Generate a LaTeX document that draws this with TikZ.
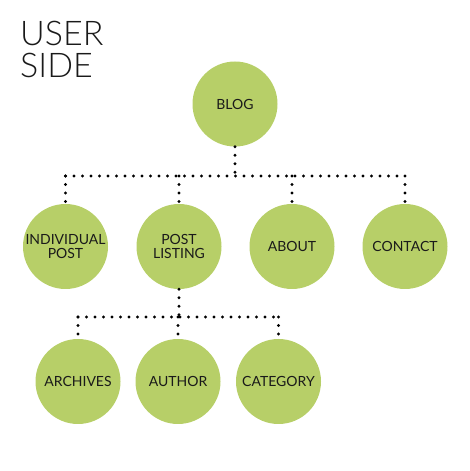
\documentclass[tikz,border=0pt]{standalone}
\usepackage{fontspec}
\setmainfont{Lato}
\newfontfamily\titlefont{Lato Light}
\usepackage{xcolor}
\definecolor{leaf}{RGB}{183,207,104}
\definecolor{ink}{RGB}{26,26,26}

\begin{document}
\begin{tikzpicture}[
    x=1pt, y=1pt,
    page/.style={circle, fill=leaf, minimum size=85pt, inner sep=0pt,
                 align=center, text=ink, font=\fontsize{14}{13.5}\selectfont},
    link/.style={line width=3.2pt, line cap=round, dash pattern=on 0pt off 8.5pt}
]
    \useasboundingbox (0,0) rectangle (470,471);

    % Title
    \node[anchor=north west, align=left, inner sep=0pt, text=ink,
          font=\titlefont\fontsize{34}{32}\selectfont] (title) at (20,450) {USER\\SIDE};

    % Pages
    \node[page] (blog) at (235,367) {BLOG};

    \node[page] (indiv) at (65.5,224.5) {INDIVIDUAL\\POST};
    \node[page] (listing) at (179,224.5) {POST\\LISTING};
    \node[page] (about) at (292,224.5) {ABOUT};
    \node[page] (contact) at (405,224.5) {CONTACT};

    \node[page] (archives) at (78,89.5) {ARCHIVES};
    \node[page] (author) at (178,89.5) {AUTHOR};
    \node[page] (category) at (278.5,89.5) {CATEGORY};

    % Links, level one
    \coordinate (busA) at (235,295);
    \draw[link] (blog.south) -- (busA);
    \draw[link] (indiv.north |- busA) -- (contact.north |- busA);
    \foreach \n in {indiv,listing,about,contact}
        \draw[link] (\n.north |- busA) -- (\n.north);

    % Links, level two
    \coordinate (busB) at (179,154);
    \draw[link] (listing.south) -- (busB);
    \draw[link] (archives.north |- busB) -- (category.north |- busB);
    \foreach \n in {archives,author,category}
        \draw[link] (\n.north |- busB) -- (\n.north);
\end{tikzpicture}
\end{document}
